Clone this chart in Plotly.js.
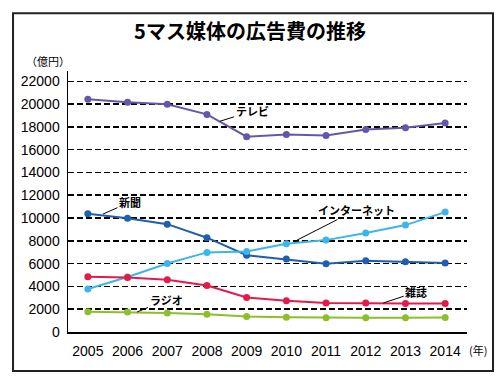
<!DOCTYPE html>
<html>
<head>
<meta charset="utf-8">
<script src="https://cdn.plot.ly/plotly-3.0.1.min.js"></script>
<style>
html,body{margin:0;padding:0;background:#fff;}
#chart{width:500px;height:377px;}
</style>
</head>
<body>
<div id="chart"></div>
<script>
const years = [2005, 2006, 2007, 2008, 2009, 2010, 2011, 2012, 2013, 2014];
const tv = [20411, 20161, 19981, 19092, 17139, 17321, 17237, 17757, 17913, 18347];
const newspaper = [10377, 9986, 9462, 8276, 6739, 6396, 5990, 6242, 6170, 6057];
const internet = [3777, 4826, 6003, 6983, 7069, 7747, 8062, 8680, 9381, 10519];
const magazine = [4842, 4777, 4585, 4078, 3034, 2733, 2542, 2551, 2499, 2500];
const radio = [1778, 1744, 1671, 1549, 1370, 1299, 1247, 1246, 1243, 1272];
const yTicks = [0, 2000, 4000, 6000, 8000, 10000, 12000, 14000, 16000, 18000, 20000, 22000];
const seriesNames = ['テレビ', '新聞', 'インターネット', '雑誌', 'ラジオ'];
const colors = ['#6656a8', '#1e5fae', '#3db5ea', '#e41a4b', '#8cbf2a'];
const seriesData = [tv, newspaper, internet, magazine, radio];

const traces = seriesData.map((d, i) => ({
  x: years, y: d, type: 'scatter', mode: 'lines+markers', name: seriesNames[i],
  line: {color: colors[i], width: 2},
  marker: {color: colors[i], size: 7},
  cliponaxis: false
}));

// label anchor points (year, value) and text offsets (px)
const labelPts = [
  {x: 2008.33, y: 18494, ax: 32, ay: -10},
  {x: 2005.38, y: 10343, ax: 27, ay: -12},
  {x: 2010.27, y: 8064, ax: 59, ay: -30},
  {x: 2012.44, y: 2542, ax: 33, ay: -11},
  {x: 2006.24, y: 1753, ax: 29, ay: -12}
];

const jpFont = '"Noto Sans CJK JP", "Noto Sans", sans-serif';
const annotations = labelPts.map((p, i) => ({
  x: p.x, y: p.y, xref: 'x', yref: 'y', text: '<b>' + seriesNames[i] + '</b>',
  showarrow: true, arrowhead: 0, arrowwidth: 1, arrowcolor: '#000',
  ax: p.ax, ay: p.ay, font: {family: jpFont, size: 11, color: '#000'}
}));
annotations.push({
  xref: 'paper', yref: 'paper', x: -0.05, y: 1.0, xanchor: 'center', yanchor: 'bottom',
  text: '（億円）', showarrow: false, font: {family: jpFont, size: 11, color: '#000'}
});
annotations.push({
  xref: 'paper', yref: 'paper', x: 1.0, y: -0.03, xanchor: 'left', yanchor: 'top',
  text: '(年)', showarrow: false, font: {family: jpFont, size: 11, color: '#000'}
});

const layout = {
  width: 500, height: 377,
  margin: {l: 68, r: 33, t: 71, b: 45},
  paper_bgcolor: '#fff', plot_bgcolor: '#fff',
  showlegend: false,
  title: {text: '<b>5マス媒体の広告費の推移</b>', x: 0.5, xanchor: 'center', y: 0.915, yanchor: 'middle',
    font: {family: jpFont, size: 20, color: '#000'}},
  xaxis: {
    range: [2004.5, 2014.55], tickvals: years, ticktext: years.map(String),
    showgrid: false, zeroline: false, showline: true, linecolor: '#000', linewidth: 1.5,
    ticks: '', tickfont: {family: 'Liberation Sans, Arial, sans-serif', size: 14, color: '#000'},
    ticklabelstandoff: 6
  },
  yaxis: {
    range: [0, 22900], tickvals: yTicks, ticktext: yTicks.map(String),
    showgrid: true, gridcolor: '#000', gridwidth: 1.5, griddash: '6px,3px',
    zeroline: false, showline: true, linecolor: '#000', linewidth: 1.5,
    ticks: '', tickfont: {family: 'Liberation Sans, Arial, sans-serif', size: 14, color: '#000'},
    ticklabelstandoff: 4
  },
  shapes: [{
    type: 'rect', xref: 'paper', yref: 'paper', x0: -0.1378, x1: 1.0652, y0: -0.1493, y1: 1.2214,
    line: {color: '#222', width: 2}, fillcolor: 'rgba(0,0,0,0)', layer: 'below'
  }],
  annotations: annotations
};

Plotly.newPlot('chart', traces, layout, {staticPlot: true, displayModeBar: false});
</script>
</body>
</html>
